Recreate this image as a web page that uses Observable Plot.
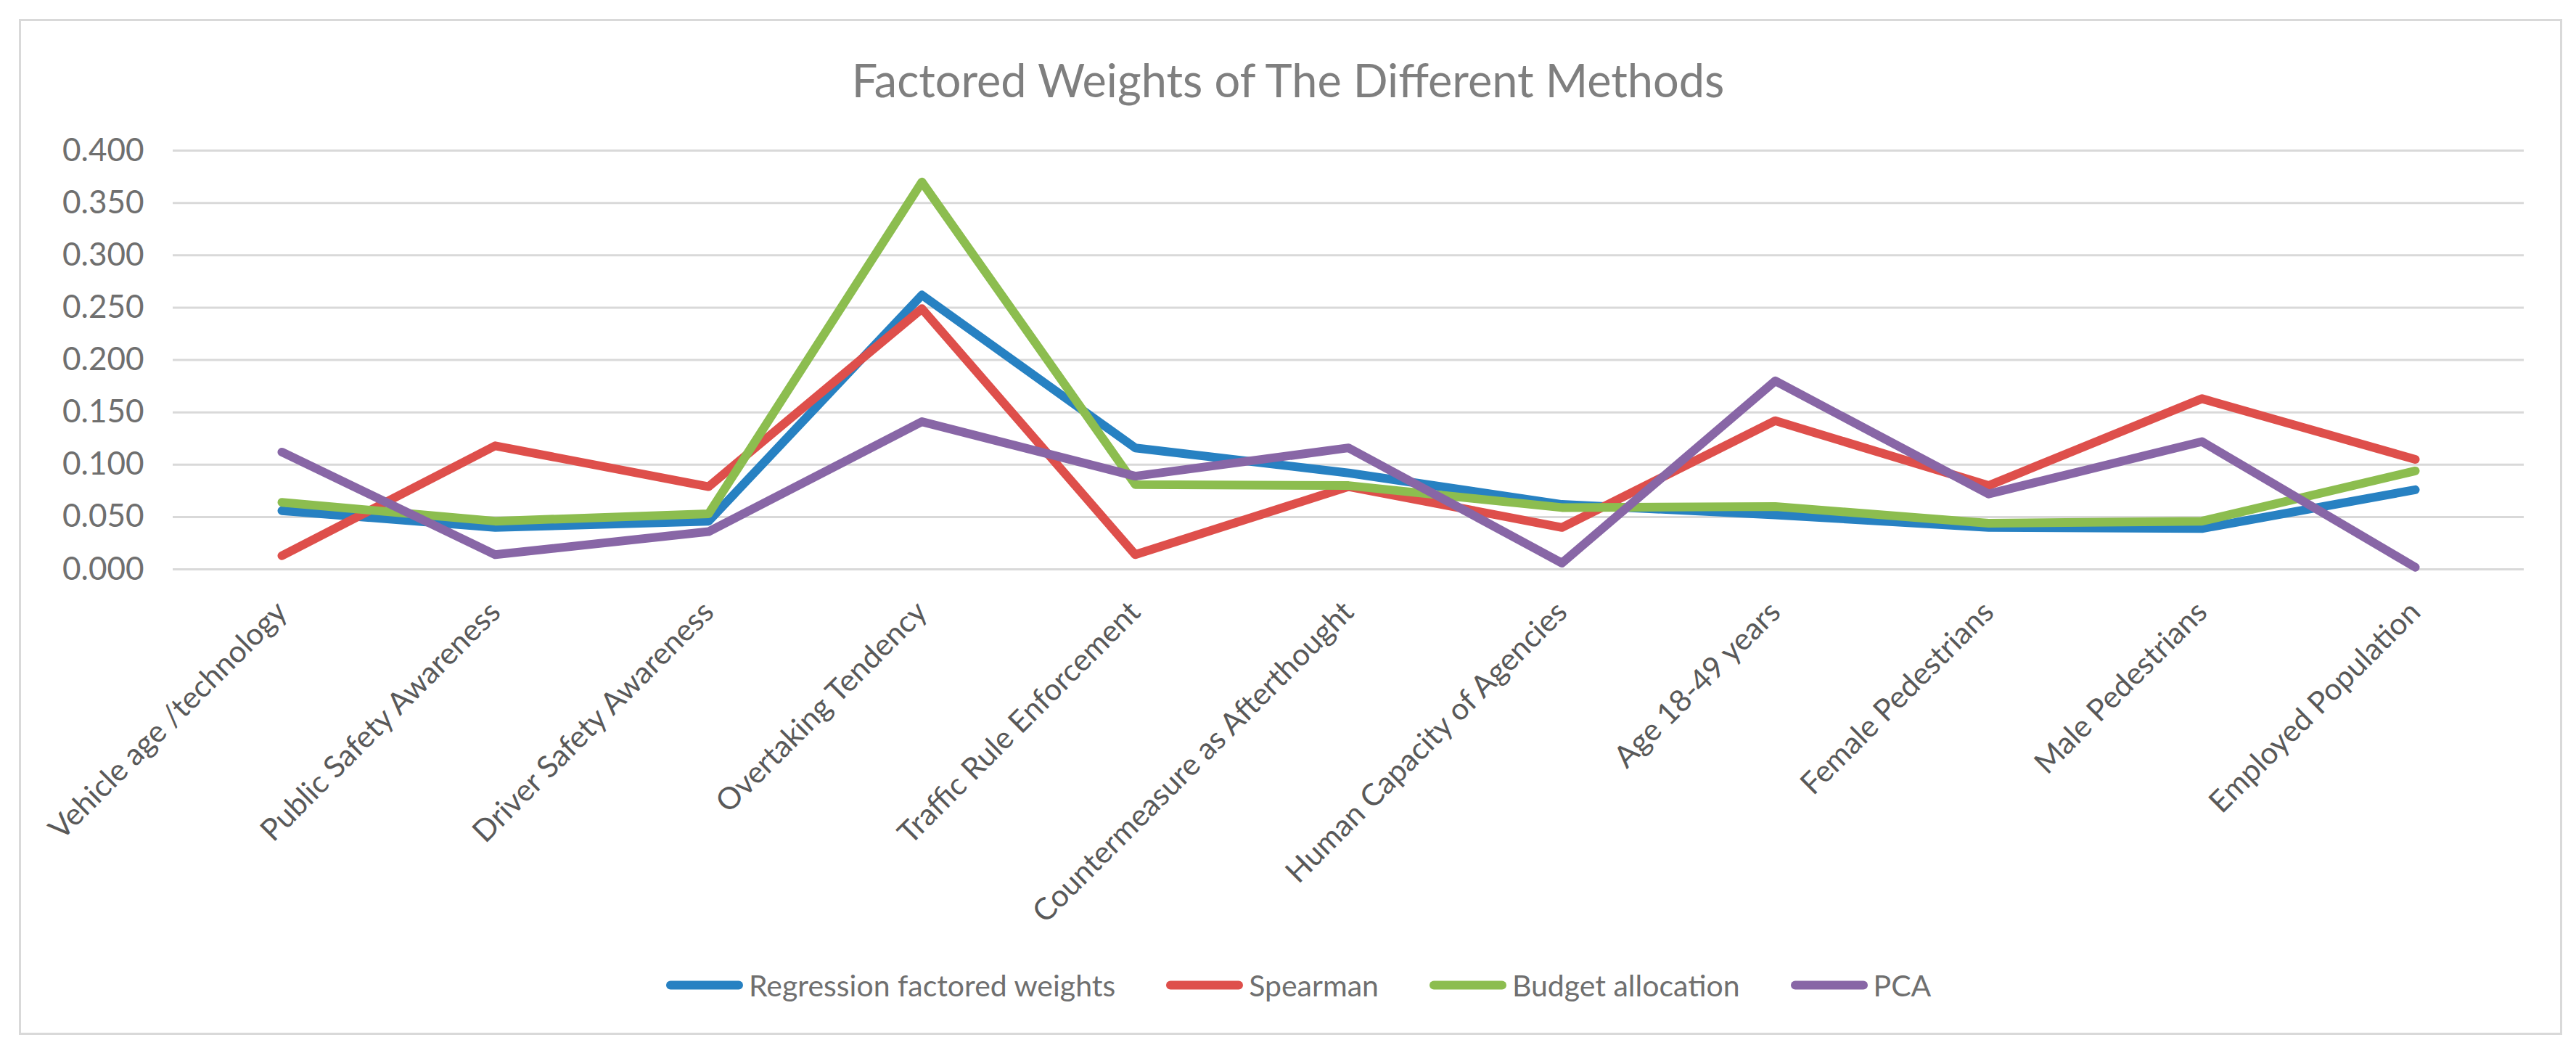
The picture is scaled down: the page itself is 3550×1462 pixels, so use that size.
<!DOCTYPE html>
<html>
<head>
<meta charset="utf-8">
<script src="https://cdn.jsdelivr.net/npm/d3@7"></script>
<script src="https://cdn.jsdelivr.net/npm/@observablehq/plot@0.6"></script>
<style>
  html, body { margin: 0; padding: 0; background: #fff; }
  #wrap { position: relative; width: 3550px; height: 1462px; overflow: hidden; font-family: Lato, "Open Sans", sans-serif; }
  #frame { position: absolute; left: 26px; top: 26px; width: 3499px; height: 1394px; border: 3px solid #d9d9d9; }
  #title { position: absolute; left: 0; top: 109px; width: 3550px; text-align: center; transform: translateY(-50%);
           font-size: 63px; font-weight: 400; color: #7f7f7f; white-space: nowrap; }
  #chart { position: absolute; left: 0; top: 0; }
  #legend { position: absolute; left: 918px; top: 1357px; transform: translateY(-50%); display: flex; align-items: center;
            font-size: 41px; color: #6f6f6f; white-space: nowrap; }
  .item { display: flex; align-items: center; margin-right: 70px; }
  .item:last-child { margin-right: 0; }
  .sw { width: 106px; height: 12px; border-radius: 6px; margin-right: 8px; }
</style>
</head>
<body>
<div id="wrap">
  <div id="frame"></div>
  <div id="chart"></div>
  <div id="title"></div>
  <div id="legend"></div>
</div>
<script>
const titleText = "Factored Weights of The Different Methods";

const categories = [
  "Vehicle age /technology",
  "Public Safety Awareness",
  "Driver Safety Awareness",
  "Overtaking Tendency",
  "Traffic Rule Enforcement",
  "Countermeasure as Afterthought",
  "Human Capacity of Agencies",
  "Age 18-49 years",
  "Female Pedestrians",
  "Male Pedestrians",
  "Employed Population"
];

const seriesNames = ["Regression factored weights", "Spearman", "Budget allocation", "PCA"];
const seriesColors = ["#2781c2", "#de4f4b", "#8cbd4f", "#8866a6"];

const regression = [0.056, 0.040, 0.046, 0.262, 0.116, 0.092, 0.062, 0.052, 0.040, 0.039, 0.076];
const spearman   = [0.013, 0.118, 0.079, 0.249, 0.014, 0.079, 0.040, 0.142, 0.080, 0.163, 0.105];
const budget     = [0.064, 0.046, 0.053, 0.370, 0.081, 0.080, 0.059, 0.060, 0.044, 0.046, 0.094];
const pca        = [0.112, 0.014, 0.036, 0.141, 0.089, 0.116, 0.006, 0.180, 0.072, 0.122, 0.002];

const yTicks = [0, 0.05, 0.10, 0.15, 0.20, 0.25, 0.30, 0.35, 0.40];

const seriesValues = [regression, spearman, budget, pca];
const rows = categories.flatMap((c, i) =>
  seriesNames.map((name, k) => ({category: c, method: name, value: seriesValues[k][i]}))
);

const FONT = 'Lato, "Open Sans", sans-serif';

const chart = Plot.plot({
  width: 3550,
  height: 1462,
  marginLeft: 238,
  marginRight: 72,
  marginTop: 207,
  marginBottom: 678,
  style: {fontFamily: FONT, fontSize: "44px", color: "#595959", background: "transparent", overflow: "visible"},
  x: {type: "point", domain: categories, padding: 0.5, label: null},
  y: {domain: [0, 0.4], label: null},
  color: {domain: seriesNames, range: seriesColors},
  marks: [
    Plot.gridY(yTicks, {stroke: "#d9d9d9", strokeWidth: 3, strokeOpacity: 1}),
    Plot.axisY(yTicks, {tickSize: 0, tickPadding: 40, tickFormat: d3.format(".3f"), fontSize: 44, fill: "#6f6f6f", label: null}),
    Plot.axisX({tickSize: 0, tickRotate: -45, tickPadding: 52, fontSize: 42, fill: "#595959", label: null}),
    Plot.line(rows, {x: "category", y: "value", z: "method", stroke: "method",
      strokeWidth: 12, strokeLinecap: "round", strokeLinejoin: "round"})
  ]
});
document.getElementById("chart").appendChild(chart);

document.getElementById("title").textContent = titleText;

const legend = document.getElementById("legend");
seriesNames.forEach((name, k) => {
  const item = document.createElement("div");
  item.className = "item";
  const sw = document.createElement("div");
  sw.className = "sw";
  sw.style.background = seriesColors[k];
  const tx = document.createElement("span");
  tx.textContent = name;
  item.appendChild(sw);
  item.appendChild(tx);
  legend.appendChild(item);
});
</script>
</body>
</html>
